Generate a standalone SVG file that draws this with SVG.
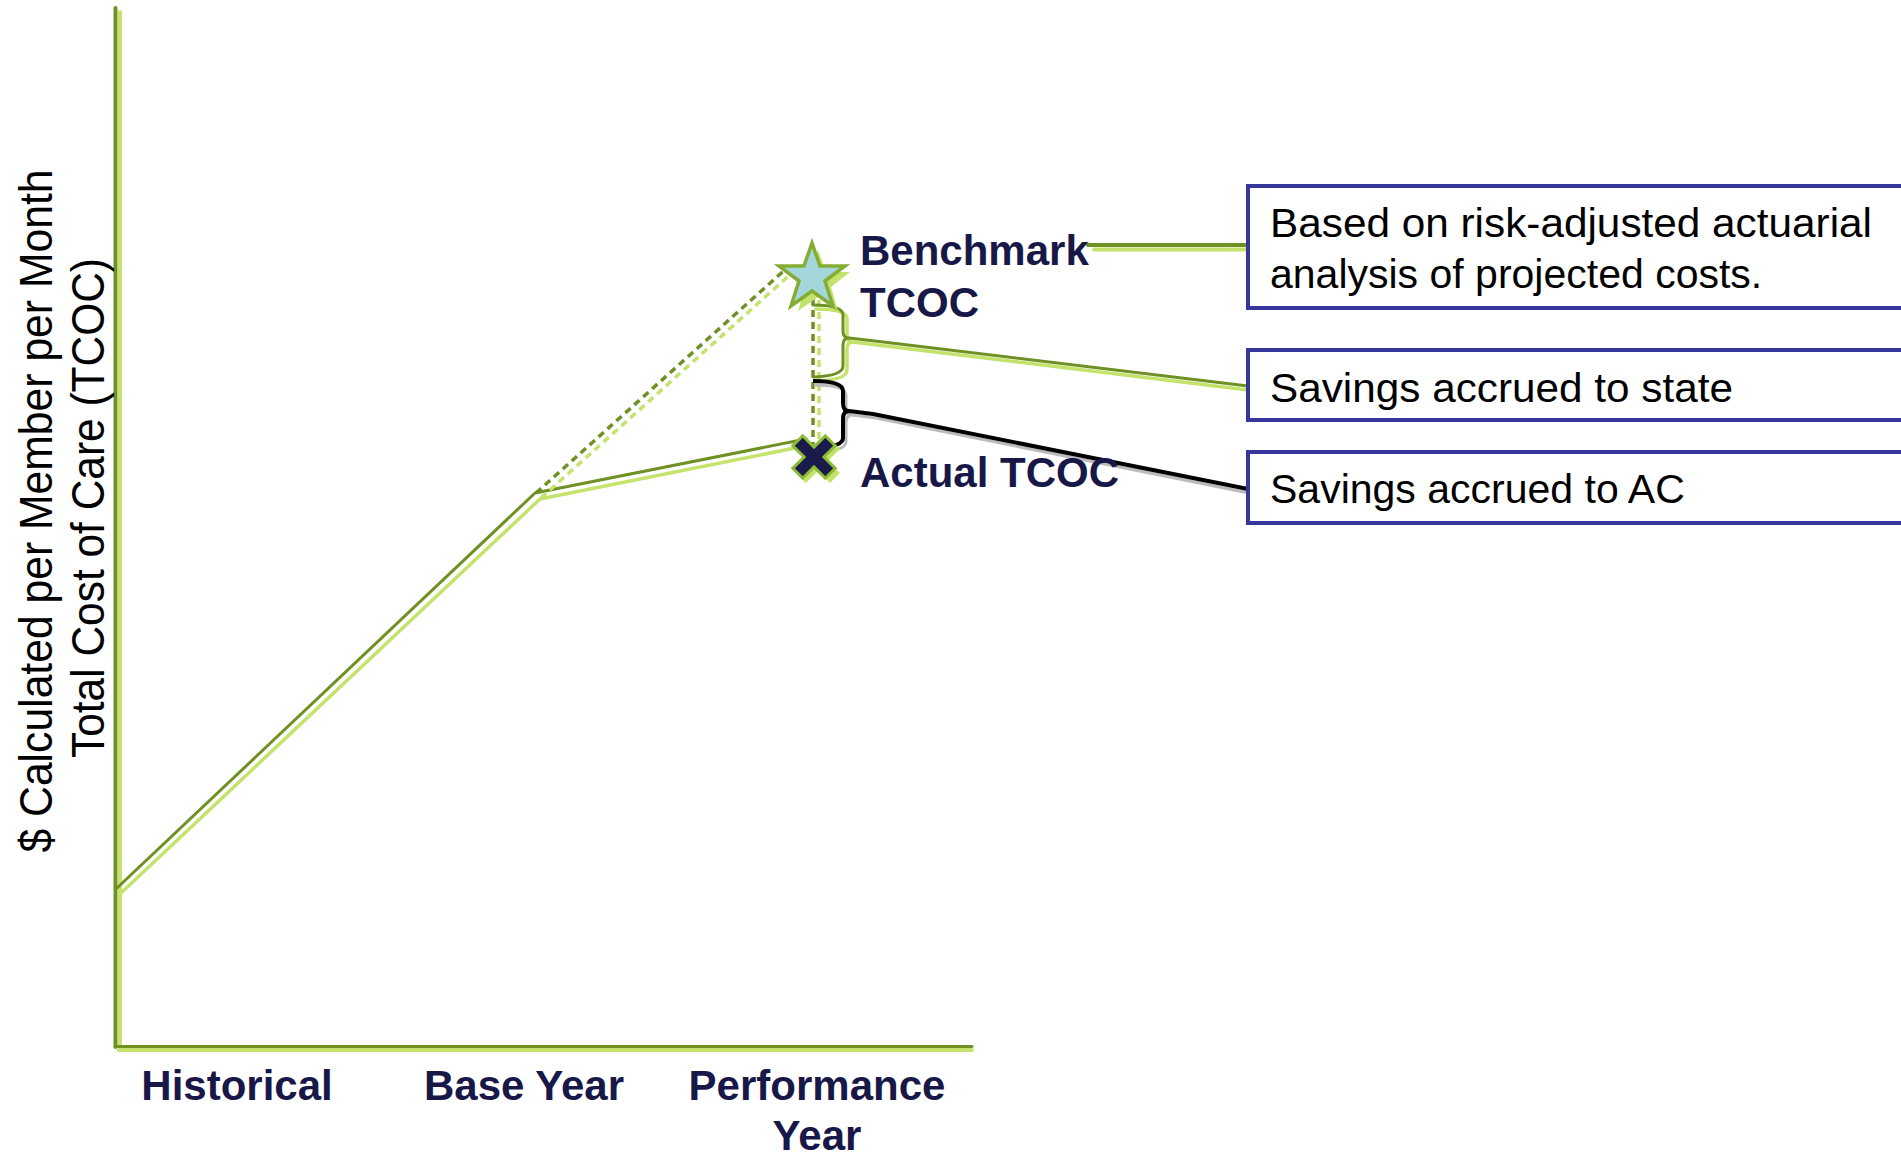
<svg xmlns="http://www.w3.org/2000/svg" width="1901" height="1156" viewBox="0 0 1901 1156">
<style>
.dk{fill:none;stroke:#6f9124;stroke-width:3;stroke-linejoin:round;stroke-linecap:round}
.lt{fill:none;stroke:#c4e36c;stroke-width:3.5;stroke-linejoin:round;stroke-linecap:round}
.dkd{fill:none;stroke:#6f9124;stroke-width:3.5;stroke-dasharray:7 5}
.ltd{fill:none;stroke:#c4e36c;stroke-width:3.5;stroke-dasharray:7 5}
.box{fill:#fff;stroke:#35389a;stroke-width:4}
.bt{font-family:"Liberation Sans",Arial,sans-serif;font-size:41px;fill:#000}
.nt{font-family:"Liberation Sans",Arial,sans-serif;font-size:42px;font-weight:bold;fill:#181848}
.yl{font-family:"Liberation Sans",Arial,sans-serif;font-size:46px;fill:#000}
</style>
<rect width="1901" height="1156" fill="#fff"/>
<g id="axes">
<line class="lt" x1="120" y1="12" x2="120" y2="1050" style="stroke-width:4"/>
<line class="dk" x1="115.5" y1="8" x2="115.5" y2="1047" style="stroke-width:4"/>
<line class="lt" x1="119" y1="1050" x2="972" y2="1050" style="stroke-width:4"/>
<line class="dk" x1="115" y1="1046.5" x2="972" y2="1046.5"/>
</g>
<g id="y-label">
<text class="yl" transform="translate(52,511) rotate(-90)" text-anchor="middle" textLength="683" lengthAdjust="spacingAndGlyphs">$ Calculated per Member per Month</text>
<text class="yl" transform="translate(104,508) rotate(-90)" text-anchor="middle" textLength="500" lengthAdjust="spacingAndGlyphs">Total Cost of Care (TCOC)</text>
</g>
<g id="x-labels">
<text class="nt" x="237" y="1100" text-anchor="middle">Historical</text>
<text class="nt" x="524" y="1100" text-anchor="middle">Base Year</text>
<text class="nt" x="817" y="1100" text-anchor="middle">Performance</text>
<text class="nt" x="817" y="1150" text-anchor="middle">Year</text>
</g>
<g id="connectors">
<polyline class="lt" points="121,893 540,499 810,445"/>
<polyline class="dk" points="117,888 535,493 806,439"/>
<line class="ltd" x1="541" y1="498" x2="793" y2="272"/>
<line class="dkd" x1="536" y1="493" x2="788" y2="267"/>
<line class="ltd" x1="819" y1="300" x2="819" y2="447"/>
<line class="dkd" x1="813" y1="298" x2="813" y2="446"/>
<path class="lt" d="M816,309 Q847,309 847,319 L847,335 Q847,342 853,342 L877,345 L1248,390 M853,342 Q847,342 847,349 L847,370 Q847,380 816,381"/>
<path class="dk" d="M813,305 Q843,305 843,315 L843,331 Q843,338 849,338 L875,341 L1248,386 M849,338 Q843,338 843,345 L843,366 Q843,376 813,377"/>
<path d="M813,383 Q845,383 845,393 L845,405 Q845,413 851,413 L875,416 L1248,491 M851,413 Q845,413 845,421 L845,440 Q845,449 813,451" fill="none" stroke="#bbb" stroke-width="3" transform="translate(1,2)"/>
<path d="M813,381 Q843,381 843,391 L843,403 Q843,411 849,411 L873,414 L1248,489 M849,411 Q843,411 843,419 L843,438 Q843,447 813,449" fill="none" stroke="#000" stroke-width="4" stroke-linejoin="round"/>
<line class="lt" x1="1094" y1="249.5" x2="1248" y2="249.5" style="stroke-width:4"/>
<line class="dk" x1="1088" y1="245" x2="1248" y2="245" style="stroke-width:4"/>
</g>
<g id="benchmark">
<polygon points="815,247 823,269 847,269 828,284 835,308 815,294 795,308 802,284 783,269 807,269" fill="#c4e36c" transform="translate(3,3)"/>
<polygon points="812,243 820,266 845,266 825,281 833,306 812,291 791,306 799,281 779,266 804,266" fill="#a3d7dc" stroke="#86ad33" stroke-width="3.5" stroke-linejoin="miter"/>
<text class="nt" x="860" y="265">Benchmark</text>
<text class="nt" x="860" y="317">TCOC</text>
</g>
<g id="actual">
<polygon points="-7,-24 7,-24 7,-7 24,-7 24,7 7,7 7,24 -7,24 -7,7 -24,7 -24,-7 -7,-7" fill="#c4e36c" transform="translate(818,461) rotate(45)"/>
<polygon points="-7,-23 7,-23 7,-7 23,-7 23,7 7,7 7,23 -7,23 -7,7 -23,7 -23,-7 -7,-7" fill="#1b1b4b" stroke="#8cbb34" stroke-width="3" transform="translate(814,457) rotate(45)"/>
<text class="nt" x="860" y="487">Actual TCOC</text>
</g>
<g id="box-benchmark">
<rect class="box" x="1248" y="186" width="670" height="122"/>
<text class="bt" x="1270" y="237" textLength="602" lengthAdjust="spacingAndGlyphs">Based on risk-adjusted actuarial</text>
<text class="bt" x="1270" y="288">analysis of projected costs.</text>
</g>
<g id="box-state">
<rect class="box" x="1248" y="350" width="670" height="70"/>
<text class="bt" x="1270" y="402" textLength="463" lengthAdjust="spacingAndGlyphs">Savings accrued to state</text>
</g>
<g id="box-ac">
<rect class="box" x="1248" y="452" width="670" height="71"/>
<text class="bt" x="1270" y="503">Savings accrued to AC</text>
</g>
</svg>
